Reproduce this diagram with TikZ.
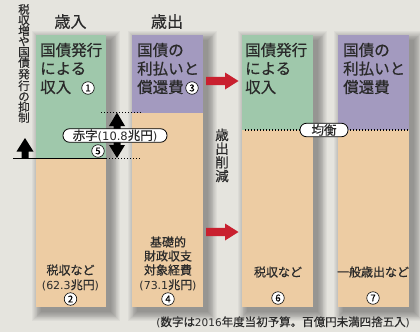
\documentclass[tikz,border=0pt]{standalone}
\usepackage{fontspec}
\setmainfont{Noto Sans CJK JP}[FakeBold=0.5]
\newfontfamily\latf{DejaVu Sans}
\definecolor{bgc}{HTML}{E5E4DE}
\definecolor{grn}{HTML}{9FC8AB}
\definecolor{pur}{HTML}{A39ABF}
\definecolor{pch}{HTML}{EDCCA3}
\definecolor{redc}{HTML}{C9202F}
\definecolor{txt}{HTML}{2A2A2A}
\tikzset{
  head/.style={inner sep=0pt, text=txt, font=\fontsize{16}{16}\selectfont},
  coltxt/.style={inner sep=0pt, anchor=west, text=txt, font=\fontsize{15.5}{15.5}\selectfont},
  bottxt/.style={inner sep=0pt, text=txt, font=\fontsize{12}{12}\selectfont},
  cnum/.style={circle, draw=black, fill=white, line width=0.6pt, inner sep=0pt, minimum size=12.5pt, text=black, font=\fontsize{9.5}{9.5}\selectfont},
  tag/.style={draw=black, fill=white, line width=0.8pt, rounded corners=6.5pt, inner sep=0pt, minimum height=13.5pt, text=txt, font=\fontsize{12.5}{12.5}\selectfont},
  dotline/.style={black, line width=1.3pt, dash pattern=on 1.3pt off 1.7pt},
  vtxt/.style={inner sep=0pt, align=center, text=txt},
}
\begin{document}
\begin{tikzpicture}[x=1pt,y=-1pt]
\fill[bgc] (0,0) rectangle (420,332);
\useasboundingbox (0,0) rectangle (420,332);
% shadows
\foreach \xa/\xb in {36/106,132/203,242/313,338/409}{
  \foreach \k in {0,...,10}{
    \fill[black,opacity=0.035] ({\xa+5-\k*0.9},{40-\k*0.9}) rectangle ({\xb+5+\k*0.9},{312+\k*0.9});
  }
}
% columns
\fill[grn] (36,35) rectangle (106,158.5);
\fill[pch] (36,158.5) rectangle (106,307);
\fill[pur] (132,35) rectangle (203,113);
\fill[pch] (132,113) rectangle (203,307);
\fill[grn] (242,35) rectangle (313,130);
\fill[pch] (242,130) rectangle (313,307);
\fill[pur] (338,35) rectangle (409,130);
\fill[pch] (338,130) rectangle (409,307);
% headings
\node[head] (h1) at (70.5,21.5) {歳入};
\node[head] (h2) at (167,21.5) {歳出};
% column texts
\node[coltxt] (a1) at (40,50) {国債発行};
\node[coltxt] (a2) at (40,68.5) {による};
\node[coltxt] (a3) at (40,87) {収入};
\node[cnum] (n1) at (88,88) {1};
\node[coltxt] (b1) at (137,50) {国債の};
\node[coltxt] (b2) at (137,68.5) {利払いと};
\node[coltxt] (b3) at (137,87) {償還費};
\node[cnum] (n3) at (192,88) {3};
\node[coltxt] (c1) at (245,50) {国債発行};
\node[coltxt] (c2) at (245,68.5) {による};
\node[coltxt] (c3) at (245,87) {収入};
\node[coltxt] (d1) at (343,50) {国債の};
\node[coltxt] (d2) at (343,68.5) {利払いと};
\node[coltxt] (d3) at (343,87) {償還費};
% bottom texts
\node[bottxt] (e1) at (70.5,270) {税収など};
\node[bottxt] (e2) at (70.5,285) {{\latf\fontsize{11}{11}\selectfont(62.3}兆円{\latf\fontsize{11}{11}\selectfont)}};
\node[cnum] (n2) at (70.5,299) {2};
\node[bottxt] (f1) at (168,242) {基礎的};
\node[bottxt] (f2) at (168,256) {財政収支};
\node[bottxt] (f3) at (168,270) {対象経費};
\node[bottxt] (f4) at (168,285) {{\latf\fontsize{11}{11}\selectfont(73.1}兆円{\latf\fontsize{11}{11}\selectfont)}};
\node[cnum] (n4) at (168,299) {4};
\node[bottxt] (g1) at (278,272) {税収など};
\node[cnum] (n6) at (278,298) {6};
\node[bottxt] (k1) at (373,272) {一般歳出など};
\node[cnum] (n7) at (373,298) {7};
% vertical texts
\node[vtxt, font=\fontsize{11.5}{10.6}\selectfont] (v1) at (24,63.5) {税\\収\\増\\や\\国\\債\\発\\行\\の\\抑\\制};
\node[vtxt, font=\fontsize{13.5}{13.7}\selectfont] (v2) at (222,155.5) {歳\\出\\削\\減};
% baseline and dotted lines
\draw[black, line width=1.2pt] (13,158.5) -- (106,158.5);
\draw[dotline] (101,112.5) -- (141,112.5);
\draw[dotline] (106,158.5) -- (141,158.5);
\draw[dotline] (245,130) -- (409,130);
% left up arrow
\fill[black] (25,138) -- (33.5,151.5) -- (28.5,151.5) -- (28.5,158.5) -- (21.5,158.5) -- (21.5,151.5) -- (16.5,151.5) -- cycle;
% double arrow
\fill[black] (117,112.5) -- (125,126) -- (120.5,126) -- (120.5,145) -- (125,145) -- (117,158) -- (109,145) -- (113.5,145) -- (113.5,126) -- (109,126) -- cycle;
% red arrows
\fill[redc] (206,76.8) -- (225,76.8) -- (225,72.5) -- (238.5,81) -- (225,89.5) -- (225,85.2) -- (206,85.2) -- cycle;
\fill[redc] (206,227.8) -- (225,227.8) -- (225,223.5) -- (238.5,232) -- (225,240.5) -- (225,236.2) -- (206,236.2) -- cycle;
% tags
\node[tag, minimum width=104pt] (t1) at (115,135.5) {赤字{\latf\fontsize{11.5}{11.5}\selectfont(10.8}兆円{\latf\fontsize{11.5}{11.5}\selectfont)}};
\node[cnum] (n5) at (98,151) {5};
\node[tag, minimum width=48pt] (t2) at (324,130) {均衡};
% footnote
\node[inner sep=0pt, anchor=east, text=txt, font=\fontsize{11.5}{11.5}\selectfont] (fn) at (410,322) {{\latf\fontsize{10.5}{10.5}\selectfont(}数字は{\latf\fontsize{10.5}{10.5}\selectfont 2016}年度当初予算。百億円未満四捨五入{\latf\fontsize{10.5}{10.5}\selectfont)}};
\end{tikzpicture}
\end{document}
